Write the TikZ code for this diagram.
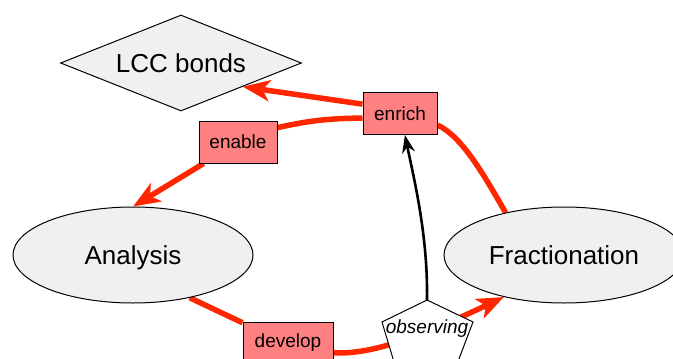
\documentclass[tikz,border=0pt]{standalone}
\usepackage{fontspec}
\setmainfont{Liberation Sans}
\usetikzlibrary{shapes.geometric,arrows.meta,backgrounds}
\definecolor{edgered}{RGB}{255,38,0}
\definecolor{boxfill}{RGB}{255,128,128}
\definecolor{nodegrey}{RGB}{240,240,240}
\tikzset{
  bigtext/.style={font=\fontsize{26}{30}\selectfont},
  smalltext/.style={font=\fontsize{19}{22}\selectfont},
  place/.style={ellipse, draw=black, line width=1pt, fill=nodegrey, minimum width=240pt, minimum height=96pt, inner sep=0pt, text height=19pt, text depth=0pt, bigtext},
  goal/.style={diamond, shape aspect=2.5, draw=black, line width=1pt, fill=nodegrey, minimum width=241pt, minimum height=96pt, inner sep=0pt, bigtext},
  trans/.style={rectangle, draw=black, line width=1pt, fill=boxfill, minimum height=42pt, inner sep=0pt, smalltext},
  redline/.style={draw=edgered, line width=5.5pt},
  redarrow/.style={redline, -{Stealth[length=27pt,width=21pt,inset=7pt]}},
  blackarrow/.style={draw=black, line width=2.6pt, -{Stealth[length=18pt,width=13pt,inset=6pt]}},
}
\begin{document}
\begin{tikzpicture}[x=1pt,y=-1pt]
\useasboundingbox (0,0) rectangle (673,359);
\clip (0,0) rectangle (673,359);
\node[goal] (lcc) at (181,63) {LCC bonds};
\node[place] (ana) at (133,255) {Analysis};
\node[place] (frac) at (564,255) {Fractionation};
\node[trans, minimum width=74pt] (enrich) at (400,113.5) {enrich};
\node[trans, minimum width=78pt] (enable) at (238,142) {enable};
\node[trans, minimum width=90pt] (develop) at (288,343) {develop};
% observing pentagon
\coordinate (obstop) at (427,300);
\coordinate (obsright) at (473,322);
\coordinate (obsbr) at (454,372);
\coordinate (obsbl) at (397,372);
\coordinate (obsleft) at (382,322);
\draw[line width=1pt, fill=white] (obstop) -- (obsright) -- (obsbr) -- (obsbl) -- (obsleft) -- cycle;
\node[smalltext, font=\fontsize{19}{22}\selectfont\itshape, inner sep=0pt] (obs) at (427,329) {observing};
\begin{pgfonlayer}{background}
\draw[redarrow] (enrich.166) -- (lcc.-21);
\draw[redline] (enrich.187) to[bend right=6] (enable.20);
\draw[redarrow] (enable.212) -- (ana.north);
\draw[redline] (frac.144) .. controls +(-22,-38) and +(25,12) .. (enrich.-17);
\draw[redline] (ana.-37) -- (develop.156);
\draw[redarrow] (develop.-12) .. controls +(42,3) and +(-70,33) .. (frac.215);
\end{pgfonlayer}
\draw[blackarrow] (obstop) .. controls +(1,-65) and +(9,44) .. (enrich.-77);
\end{tikzpicture}
\end{document}
